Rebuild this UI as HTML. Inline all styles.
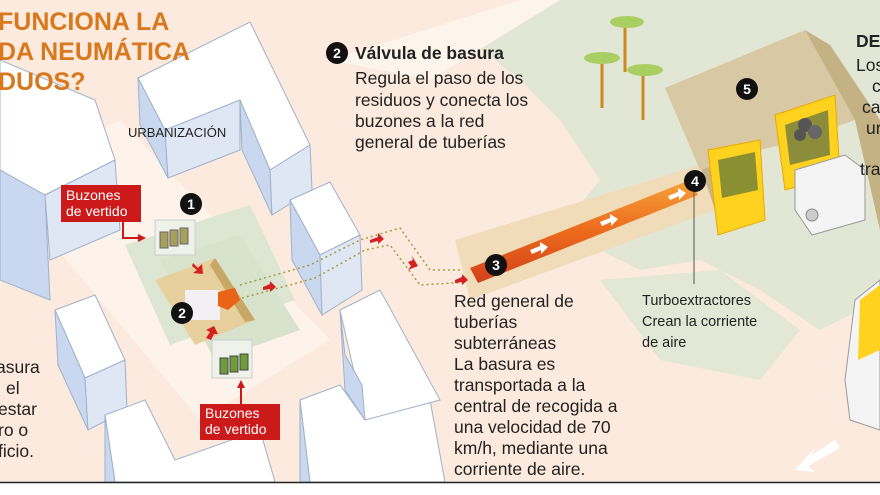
<!DOCTYPE html>
<html><head><meta charset="utf-8"><style>
html,body{margin:0;padding:0;background:#fff}
svg{display:block}
text{font-family:"Liberation Sans",sans-serif}
</style></head><body>
<svg width="880" height="495" viewBox="0 0 880 495" xmlns="http://www.w3.org/2000/svg">
<defs>
<linearGradient id="pipe" x1="0" y1="0" x2="0" y2="1"><stop offset="0" stop-color="#f7a23a"/><stop offset="0.5" stop-color="#ec6a1c"/><stop offset="1" stop-color="#d2401a"/></linearGradient>
</defs>
<rect x="0" y="0" width="880" height="482" fill="#fbeadd"/>
<path d="M540 0 L880 0 L880 300 L820 330 L760 290 L700 260 L640 270 L560 230 L600 180 L560 120 L520 80 L470 40 Z" fill="#e2e6d4"/>
<path d="M600 280 L720 270 L800 330 L760 380 L660 360 Z" fill="#e3e7d6"/>
<path d="M0 180 L120 120 L330 340 L200 420 Z" fill="#fdf3ea"/>
<path d="M330 60 L520 0 L560 0 L430 80 Z" fill="#fdf4ec"/>
<path d="M125 245 L250 205 L295 300 L170 345 Z" fill="#dde6d2"/>
<path d="M160 260 L240 235 L300 330 L215 360 Z" fill="#d7e3cc"/>
<path d="M155 280 L215 258 L255 320 L195 345 Z" fill="#e7cf9e"/>
<path d="M215 258 L255 320 L245 322 L210 265 Z" fill="#c9a765"/>
<rect x="185" y="290" width="35" height="30" fill="#f2f0f4"/>
<path d="M218 292 L235 288 L240 300 L228 310 L218 306 Z" fill="#ea6417"/>
<g stroke="#9fb1cc" stroke-width="1">
<path d="M0 60 L95 100 L115 160 L45 195 L0 170 Z" fill="#fff"/>
<path d="M0 170 L45 195 L50 300 L0 280 Z" fill="#c9d8ef"/>
<path d="M45 195 L115 160 L120 230 L50 260 Z" fill="#dfe7f5"/>
<path d="M138 78 L250 22 L310 145 L270 170 L240 100 L165 130 Z" fill="#fff"/>
<path d="M138 78 L165 130 L168 178 L140 125 Z" fill="#c9d8ef"/>
<path d="M165 130 L240 100 L240 150 L168 178 Z" fill="#dfe7f5"/>
<path d="M240 100 L270 170 L272 215 L242 150 Z" fill="#c9d8ef"/>
<path d="M270 170 L310 145 L312 190 L272 215 Z" fill="#dfe7f5"/>
<path d="M290 200 L330 182 L360 235 L320 255 Z" fill="#fff"/>
<path d="M290 200 L320 255 L322 315 L292 260 Z" fill="#c9d8ef"/>
<path d="M320 255 L360 235 L362 290 L322 315 Z" fill="#dfe7f5"/>
<path d="M55 310 L95 295 L125 360 L85 378 Z" fill="#fff"/>
<path d="M55 310 L85 378 L88 430 L58 365 Z" fill="#c9d8ef"/>
<path d="M85 378 L125 360 L127 410 L88 430 Z" fill="#dfe7f5"/>
<path d="M105 415 L145 400 L175 460 L260 430 L275 482 L115 482 Z" fill="#fff"/>
<path d="M105 415 L115 482 L105 482 Z" fill="#c9d8ef"/>
<path d="M300 400 L340 385 L365 420 L430 400 L445 482 L310 482 Z" fill="#fff"/>
<path d="M340 310 L380 290 L440 400 L365 420 Z" fill="#fff"/>
<path d="M300 400 L310 482 L300 482 Z" fill="#c9d8ef"/>
<path d="M340 310 L345 355 L362 385 L365 420 L345 390 Z" fill="#c9d8ef"/>
</g>
<g fill="none" stroke="#a89a3c" stroke-width="1.5" stroke-dasharray="2 3">
<path d="M240 285 L310 265 L360 240 L400 228 L430 270 L470 270"/>
<path d="M242 298 L315 278 L365 250 L390 245 L420 285 L470 282"/>
</g>
<path d="M455 240 L700 165 L715 210 L470 300 Z" fill="#f0dcb8"/>
<path d="M700 140 L730 160 L715 210 L700 165 Z" fill="#c8b58a"/>
<path d="M470 268 L690 180 L698 195 L478 283 Z" fill="url(#pipe)"/>
<path d="M710 175 L735 160 L740 172 L715 187 Z" fill="url(#pipe)"/>
<g fill="#fff"><polygon points="530,250 540,246 540,242 548,247 541,254 541,250 532,254"/><polygon points="600,222 610,218 610,214 618,219 611,226 611,222 602,226"/><polygon points="668,196 678,192 678,188 686,193 679,200 679,196 670,200"/><polygon points="722,172 730,169 730,165 737,170 730,176 730,172 724,175"/></g>
<path d="M665 88 L805 30 L855 120 L800 140 L760 150 L700 170 Z" fill="#d8c8a4"/>
<path d="M805 30 L830 45 L880 120 L880 230 L855 120 Z" fill="#c4b184"/>
<path d="M708 150 L760 140 L765 220 L718 235 Z" fill="#ffd21f" stroke="#e9a800"/>
<path d="M718 160 L755 152 L758 190 L722 198 Z" fill="#8a8f32"/>
<path d="M775 115 L835 95 L840 175 L785 190 Z" fill="#ffd21f" stroke="#e9a800"/>
<path d="M785 125 L828 110 L830 155 L790 165 Z" fill="#8b8d3a"/>
<circle cx="805" cy="125" r="7" fill="#555"/><circle cx="815" cy="132" r="7" fill="#666"/><circle cx="800" cy="135" r="6" fill="#555"/>
<path d="M795 170 L845 155 L865 170 L865 220 L812 235 L795 210 Z" fill="#f4f4f4" stroke="#999"/>
<circle cx="812" cy="215" r="6" fill="#ccc" stroke="#888"/>
<path d="M855 300 L880 280 L880 430 L850 420 L845 380 Z" fill="#f4f4f4" stroke="#999"/>
<path d="M860 300 L880 285 L880 350 L858 360 Z" fill="#ffd21f"/>
<path d="M835 440 L812 455 L815 448 L795 470 L815 472 L808 466 L840 448 Z" fill="#fff"/>
<g stroke="#c98a1f" stroke-width="3"><line x1="602" y1="62" x2="602" y2="108"/><line x1="625" y1="22" x2="625" y2="72"/><line x1="643" y1="72" x2="643" y2="120"/></g>
<g fill="#a9cf62"><ellipse cx="602" cy="58" rx="18" ry="6"/><ellipse cx="627" cy="22" rx="17" ry="6"/><ellipse cx="645" cy="70" rx="18" ry="6"/></g>
<g fill="#d42020"><polygon points="370,240 378,237 378,233 384,239 378,244 378,241 370,243"/><polygon points="408,262 413,260 412,256 418,266 408,270 411,266"/><polygon points="455,280 462,277 462,274 468,280 462,285 462,282 455,283"/><polygon points="263,287 270,284 270,281 276,287 270,292 270,289 263,290"/><polygon points="193,263 198,268 202,264 203,274 193,273 197,270 192,266"/><polygon points="206,338 210,332 206,330 214,326 218,334 214,334 211,340"/></g>
<rect x="155" y="220" width="40" height="35" fill="#eef2ea" stroke="#ccc"/>
<g fill="#a8a05a" stroke="#666"><rect x="160" y="232" width="8" height="16"/><rect x="170" y="230" width="8" height="16"/><rect x="180" y="228" width="8" height="16"/></g>
<rect x="212" y="340" width="40" height="38" fill="#eef2ea" stroke="#ccc"/>
<g fill="#6f9b3a" stroke="#444"><rect x="220" y="358" width="8" height="16"/><rect x="230" y="356" width="8" height="16"/><rect x="240" y="354" width="8" height="16"/></g>
<rect x="61" y="185" width="80" height="37" fill="#cc1a1a"/>
<text x="66" y="200" font-size="14" fill="#fff">Buzones</text>
<text x="66" y="216" font-size="14" fill="#fff">de vertido</text>
<path d="M123 222 L123 238 L138 238" stroke="#cc1a1a" stroke-width="2" fill="none"/><polygon points="138,234 146,238 138,242" fill="#cc1a1a"/>
<rect x="200" y="404" width="80" height="36" fill="#cc1a1a"/>
<text x="205" y="418" font-size="14" fill="#fff">Buzones</text>
<text x="205" y="434" font-size="14" fill="#fff">de vertido</text>
<line x1="241" y1="404" x2="241" y2="388" stroke="#cc1a1a" stroke-width="2"/><polygon points="237,388 241,380 245,388" fill="#cc1a1a"/>
<g font-weight="bold" font-size="14" text-anchor="middle" fill="#fff">
<circle cx="191" cy="204" r="11" fill="#111"/><text x="191" y="209">1</text>
<circle cx="182" cy="313" r="11" fill="#111"/><text x="182" y="318">2</text>
<circle cx="337" cy="53" r="11" fill="#111"/><text x="337" y="58">2</text>
<circle cx="496" cy="265" r="11" fill="#111"/><text x="496" y="270">3</text>
<circle cx="695" cy="181" r="11" fill="#111"/><text x="695" y="186">4</text>
<circle cx="747" cy="89" r="11" fill="#111"/><text x="747" y="94">5</text>
</g>
<line x1="694" y1="192" x2="694" y2="284" stroke="#555" stroke-width="1"/>
<g fill="#d9781c" font-weight="bold" font-size="25">
<text x="-2" y="30">FUNCIONA LA</text>
<text x="-2" y="60">DA NEUMÁTICA</text>
<text x="-2" y="90">DUOS?</text>
</g>
<text x="128" y="137" font-size="13" fill="#222">URBANIZACIÓN</text>
<g fill="#222" font-size="17.5">
<text x="355" y="59" font-weight="bold">Válvula de basura</text>
<text x="355" y="84">Regula el paso de los</text>
<text x="355" y="106">residuos y conecta los</text>
<text x="355" y="127">buzones a la red</text>
<text x="355" y="148">general de tuberías</text>
<text x="454" y="307">Red general de</text>
<text x="454" y="328">tuberías</text>
<text x="454" y="349">subterráneas</text>
<text x="454" y="370">La basura es</text>
<text x="454" y="391">transportada a la</text>
<text x="454" y="412">central de recogida a</text>
<text x="454" y="433">una velocidad de 70</text>
<text x="454" y="454">km/h, mediante una</text>
<text x="454" y="475">corriente de aire.</text>
<text x="-4" y="373">asura</text>
<text x="6" y="394">el</text>
<text x="-2" y="415">estar</text>
<text x="-2" y="436">ro o</text>
<text x="-2" y="457">ficio.</text>
<text x="856" y="47" font-weight="bold">DE</text>
<text x="856" y="71">Los</text>
<text x="872" y="92">c</text>
<text x="862" y="113">ca</text>
<text x="866" y="134">ur</text>
<text x="860" y="175">tra</text>
</g>
<g fill="#222" font-size="14.5">
<text x="642" y="305">Turboextractores</text>
<text x="642" y="326">Crean la corriente</text>
<text x="642" y="347">de aire</text>
</g>
<line x1="0" y1="482.5" x2="880" y2="482.5" stroke="#222" stroke-width="1.5"/>
</svg>
</body></html>
